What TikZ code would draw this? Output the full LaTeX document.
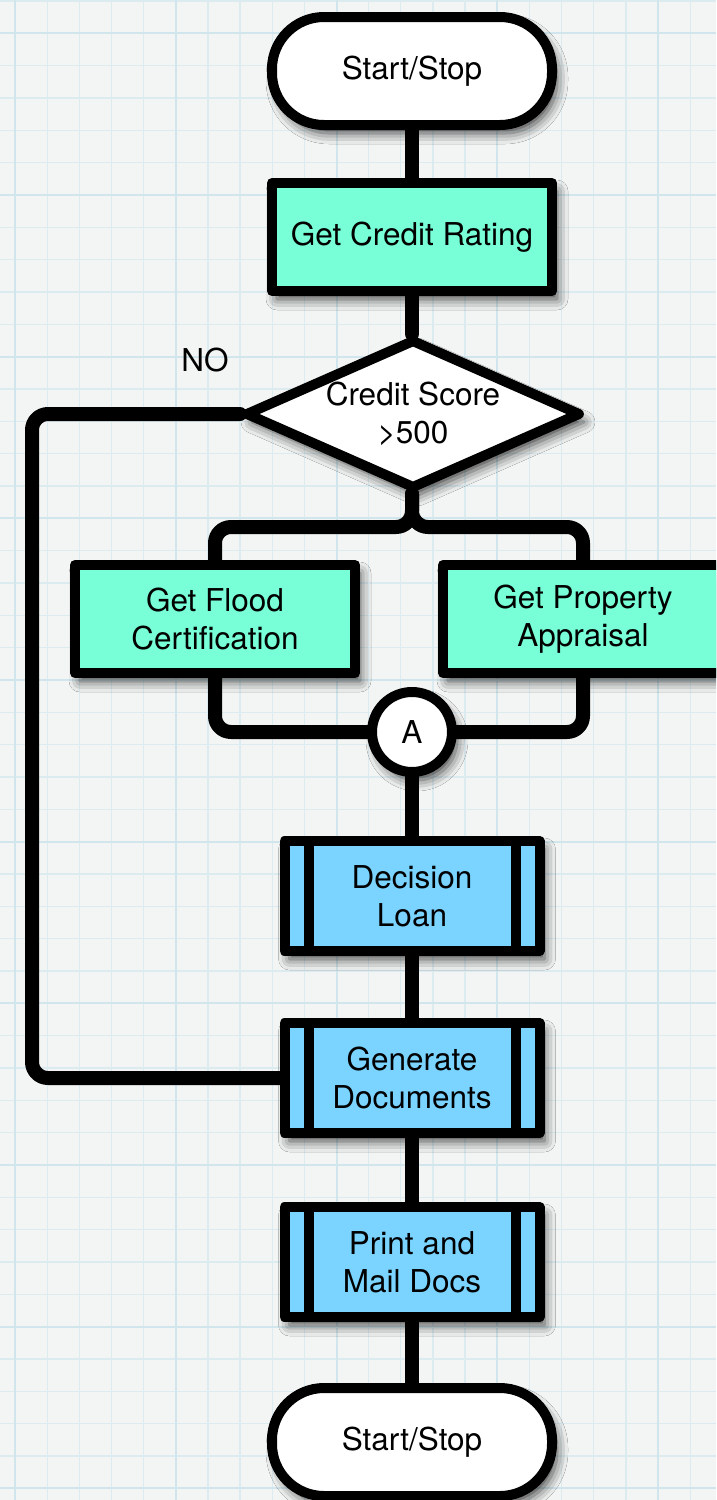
\documentclass[tikz,border=0pt]{standalone}
\usepackage{fontspec}
\setmainfont{TeX Gyre Heros}
\usetikzlibrary{shapes.geometric,shadows.blur}

\definecolor{paper}{HTML}{F3F4F4}
\definecolor{gridline}{HTML}{DCEBF0}
\definecolor{gridmajor}{HTML}{D0E5EC}
\definecolor{mint}{HTML}{78FFD7}
\definecolor{sky}{HTML}{7AD4FF}

\tikzset{
  base/.style={draw=black, line width=10pt, line join=round,
    font=\fontsize{31.5}{38}\selectfont, align=center, inner sep=0pt,
    blur shadow={shadow xshift=5pt, shadow yshift=-8pt,
      shadow blur radius=11pt, shadow opacity=75}},
  terminal/.style={base, fill=white, rectangle, rounded corners=52pt,
    minimum width=280pt, minimum height=108pt},
  taskbox/.style={base, fill=mint, rectangle,
    minimum width=280pt, minimum height=108pt},
  choice/.style={base, fill=white, diamond, aspect=2.3, inner sep=-6pt,
    minimum width=336pt, minimum height=150pt},
  joint/.style={base, fill=white, circle, minimum size=80pt},
  procbox/.style={base, fill=sky, rectangle,
    minimum width=255pt, minimum height=110pt,
    path picture={
      \draw[line width=10pt]
        ([xshift=24pt]path picture bounding box.north west) --
        ([xshift=24pt]path picture bounding box.south west);
      \draw[line width=10pt]
        ([xshift=-24pt]path picture bounding box.north east) --
        ([xshift=-24pt]path picture bounding box.south east);
    }},
  link/.style={draw=black, line width=14pt, line cap=round,
    line join=round, rounded corners=16pt},
  label/.style={font=\fontsize{31.5}{38}\selectfont, inner sep=0pt}
}

\begin{document}
\begin{tikzpicture}[x=1pt, y=-1pt]
  \useasboundingbox (0,0) rectangle (716,1500);
  \clip (0,0) rectangle (716,1500);

  % graph paper
  \fill[paper] (0,0) rectangle (716,1500);
  \foreach \k in {0,...,22}
    \draw[gridline, line width=1.3pt] ({15+32.15*\k},0) -- ++(0,1500);
  \foreach \k in {0,...,46}
    \draw[gridline, line width=1.3pt] (0,{1+32.33*\k}) -- ++(716,0);
  \foreach \k in {0,5,...,20}
    \draw[gridmajor, line width=2pt] ({15+32.15*\k},0) -- ++(0,1500);
  \foreach \k in {1,6,...,46}
    \draw[gridmajor, line width=2pt] (0,{1+32.33*\k}) -- ++(716,0);

  % bend points of the connectors
  \coordinate (noleg) at (32,700);
  \coordinate (splitpt) at (412,527);

  % shapes
  \node[terminal] (start) at (412,71) {Start/Stop};
  \node[taskbox] (credit) at (412,237) {Get Credit Rating};
  \node[choice] (score) at (413,414) {Credit Score\\>500};
  \node[label] (nolabel) at (205,360) {NO};
  \node[taskbox] (flood) at (215,619) {Get Flood\\Certification};
  \node[taskbox] (appraisal) at (583,619) {Get Property\\Appraisal};
  \node[joint] (merge) at (412,732) {A};
  \node[procbox] (decision) at (412,896) {Decision\\Loan};
  \node[procbox] (generate) at (412,1078) {Generate\\Documents};
  \node[procbox] (print) at (412,1262) {Print and\\Mail Docs};
  \node[terminal] (stop) at (412,1442) {Start/Stop};

  % connectors
  \draw[link] (start.south) -- (credit.north);
  \draw[link] (credit.south) -- (credit.south |- score.north);
  \draw[link] (score.west) -| (noleg) |- (generate.west);
  \draw[link] (credit.south |- score.south) -- (splitpt) -| (flood.north);
  \draw[link] (credit.south |- score.south) -- (splitpt) -| (appraisal.north);
  \draw[link] (flood.south) |- (merge.west);
  \draw[link] (appraisal.south) |- (merge.east);
  \draw[link] (merge.south) -- (decision.north);
  \draw[link] (decision.south) -- (generate.north);
  \draw[link] (generate.south) -- (print.north);
  \draw[link] (print.south) -- (stop.north);
\end{tikzpicture}
\end{document}
